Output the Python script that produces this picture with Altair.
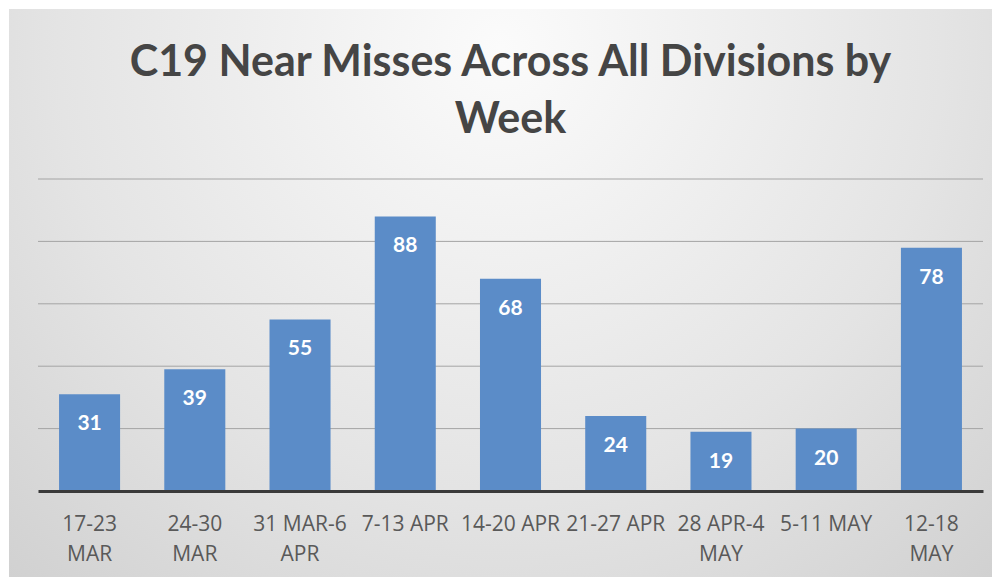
import altair as alt
import pandas as pd

weeks = ["17-23 MAR", "24-30 MAR", "31 MAR-6 APR", "7-13 APR", "14-20 APR",
         "21-27 APR", "28 APR-4 MAY", "5-11 MAY", "12-18 MAY"]
near_misses = [31, 39, 55, 88, 68, 24, 19, 20, 78]
label_lines = [["17-23", "MAR"], ["24-30", "MAR"], ["31 MAR-6", "APR"], ["7-13 APR"],
               ["14-20 APR"], ["21-27 APR"], ["28 APR-4", "MAY"], ["5-11 MAY"], ["12-18", "MAY"]]
grid_values = [20, 40, 60, 80, 100]

df = pd.DataFrame({"week": weeks, "count": near_misses})
grid_df = pd.DataFrame({"g": grid_values})

W, H = 945, 312
PAD = {"left": 30, "top": 171, "right": 11, "bottom": 87}

mapping = "{" + ", ".join(
    "'" + w + "': [" + ", ".join("'" + l + "'" for l in ls) + "]" for w, ls in zip(weeks, label_lines)
) + "}"

x_enc = alt.X("week:N", sort=weeks, title=None,
              scale=alt.Scale(paddingInner=0.42, paddingOuter=0.2),
              axis=alt.Axis(labelAngle=0, labelExpr=mapping + "[datum.label]",
                            labelFont="Open Sans", labelFontSize=21, labelColor="#595959",
                            labelLineHeight=30, labelPadding=22, labelBaseline="top",
                            ticks=False, tickSize=0, domainColor="#3a3a3a", domainWidth=3,
                            zindex=2, grid=False))
y_scale = alt.Scale(domain=[0, 100], nice=False)

bg = alt.Chart(df).mark_rect(
    fill=alt.Gradient(gradient="radial", x1=0.5, y1=0.25, x2=0.5, y2=0.25, r1=0, r2=0.75,
                      stops=[alt.GradientStop(color="#fbfbfb", offset=0),
                             alt.GradientStop(color="#e4e4e4", offset=0.6),
                             alt.GradientStop(color="#d0d0d0", offset=1)])
).encode(x=alt.value(-PAD["left"] + 1), x2=alt.value(W + PAD["right"] - 2),
         y=alt.value(-PAD["top"] + 1), y2=alt.value(H + PAD["bottom"] - 1))

grid = alt.Chart(grid_df).mark_rule(color="#a4a4a4", strokeWidth=1).encode(
    y=alt.Y("g:Q", scale=y_scale, axis=None),
    x=alt.value(0), x2=alt.value(W))

bars = alt.Chart(df).mark_bar(color="#5b8cc8").encode(
    x=x_enc,
    y=alt.Y("count:Q", scale=y_scale, axis=None))

labels = alt.Chart(df).mark_text(
    color="white", font="Lato", fontWeight="bold", fontSize=21, baseline="middle", dy=30
).encode(x=alt.X("week:N", sort=weeks), y=alt.Y("count:Q", scale=y_scale), text="count:Q")

chart = alt.layer(bg, grid, bars, labels).properties(
    width=W, height=H,
    padding=PAD,
    autosize=alt.AutoSizeParams(type="none"),
    background="white",
    title=alt.TitleParams(
        text=["C19 Near Misses Across All Divisions by", "Week"],
        font="Lato", fontSize=43, fontWeight="bold", color="#454545",
        anchor="middle", lineHeight=57, offset=0, dy=133, baseline="top"),
).configure_view(stroke=None)

chart.save("out.html", embed_options={"renderer": "svg", "actions": False})
